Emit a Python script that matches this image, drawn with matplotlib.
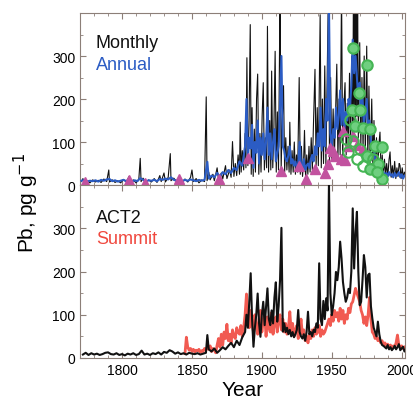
import matplotlib.pyplot as plt
from matplotlib.ticker import MultipleLocator

plt.rcParams["font.family"] = ["Liberation Sans", "DejaVu Sans"]

# ---- top panel: monthly (black) and annual (blue) ----
monthly_year = [1771, 1772, 1773, 1775, 1777, 1779, 1781, 1783, 1785, 1787, 1789, 1790.5, 1791, 1793, 1795,
                1797, 1799, 1801, 1803, 1805, 1806, 1808, 1810, 1812, 1813, 1813.6, 1815, 1817, 1819, 1821,
                1823, 1825, 1827, 1828, 1830, 1831, 1833, 1834.5, 1835, 1837, 1839, 1841, 1843, 1845, 1847,
                1849, 1850, 1851, 1853, 1855, 1857, 1859, 1860.2, 1860.8, 1862, 1863, 1865, 1866, 1868, 1869,
                1871, 1872, 1874, 1875, 1877, 1878, 1879, 1880, 1881, 1882, 1883, 1884, 1884.5, 1885.2, 1886,
                1887, 1888, 1888.6, 1889.3, 1890, 1890.8, 1891.7, 1892.4, 1893, 1893.8, 1894.6, 1895.4, 1896.2,
                1897, 1897.8, 1898.6, 1899.4, 1900.2, 1901, 1901.8, 1902.6, 1903.4, 1904, 1904.8, 1905.6,
                1906.4, 1907, 1907.8, 1908.6, 1909.5, 1910.3, 1911.1, 1911.9, 1913, 1913.8, 1914.6, 1915.5,
                1916.3, 1917.1, 1917.9, 1918.7, 1919.5, 1920, 1920.8, 1921.6, 1922.4, 1923.2, 1924, 1924.8,
                1925.6, 1926.7, 1927.5, 1928.3, 1929.1, 1929.9, 1930.5, 1931.3, 1932.1, 1932.9, 1933.7, 1934.5,
                1935.3, 1936.1, 1936.9, 1938, 1938.8, 1939.6, 1940.4, 1941.7, 1942.5, 1943.3, 1944.1, 1945,
                1945.8, 1946.6, 1947.6, 1948.4, 1949.2, 1950, 1951, 1951.8, 1952.6, 1953.6, 1954.4, 1955.2,
                1956, 1957, 1957.8, 1958.6, 1959.5, 1960.3, 1961.1, 1961.9, 1962.7, 1963.5, 1964.3, 1965,
                1965.5, 1966, 1966.5, 1967, 1967.5, 1968, 1968.5, 1969, 1970, 1970.8, 1971.6, 1972.4, 1973.2,
                1974, 1975, 1975.8, 1976.6, 1977.4, 1978.6, 1979.4, 1980.2, 1981, 1982, 1982.8, 1983.6, 1984.5,
                1985.3, 1986.1, 1986.9, 1987.7, 1988.5, 1989.3, 1990.1, 1991, 1991.7, 1992.5, 1993.3, 1994.1,
                1995, 1995.8, 1996.6, 1997.4, 1998.2, 1998.8, 1999.6, 2000.4, 2001.2, 2002, 2002.8]
monthly_pb = [8, 15, 6, 10, 5, 12, 7, 11, 6, 14, 8, 35, 7, 12, 6,
              10, 5, 13, 7, 20, 6, 12, 5, 14, 62, 8, 16, 5, 12, 7,
              15, 6, 22, 8, 28, 7, 18, 73, 10, 16, 8, 20, 6, 14, 7,
              18, 35, 8, 15, 5, 12, 8, 205, 10, 30, 12, 25, 10, 40, 12,
              28, 14, 45, 15, 35, 18, 101, 20, 50, 22, 70, 25, 146, 30, 80,
              35, 120, 40, 296, 45, 140, 373, 25, 180, 20, 130, 30, 200,
              258, 25, 120, 30, 160, 238, 35, 110, 40, 369, 30, 150,
              35, 265, 40, 130, 311, 30, 170, 35, 450, 40, 150, 231,
              30, 110, 35, 90, 30, 146, 25, 80, 30, 100, 25, 70,
              30, 250, 25, 90, 20, 60, 127, 15, 70, 25, 90, 30,
              110, 35, 140, 269, 40, 180, 45, 396, 40, 200, 50, 277,
              45, 230, 450, 50, 250, 60, 177, 55, 150, 281, 60, 200,
              70, 450, 60, 180, 238, 70, 190, 80, 260, 90, 300, 120,
              450, 150, 450, 130, 450, 160, 450, 110, 331, 90, 250, 80, 300,
              70, 323, 60, 230, 50, 200, 40, 150, 35, 110, 30, 90, 123,
              25, 70, 20, 60, 25, 50, 20, 60, 77, 18, 45, 20,
              55, 15, 40, 20, 50, 46, 15, 40, 18, 30, 20]

annual_year = list(range(1771, 1861, 2)) + [1861, 1862] + list(range(1864, 1889, 2)) + list(range(1889, 1911)) \
    + list(range(1912, 2003))
annual_pb = [10, 12, 8, 10, 9, 11, 8, 12, 10, 13, 14, 9, 11, 8, 10, 12, 9, 14, 8, 11, 9, 16, 12, 8, 11,
             10, 12, 9, 14, 12, 15, 13, 18, 12, 10, 14, 9, 12, 10, 13, 11, 9, 12, 10, 12,
             54, 15,
             22, 18, 28, 20, 30, 25, 35, 28, 40, 35, 55, 45, 90,
             200, 60, 110, 85, 140, 40, 100, 75, 150, 50, 110, 70, 120, 60, 100, 180, 70, 120, 60, 100, 130, 55,
             90, 180, 300, 90, 80, 60, 55, 70, 90, 50, 60, 45, 55, 40, 50, 100, 45, 40, 60, 35, 45, 50, 40,
             60, 70, 55, 90, 70, 120, 90, 180, 80, 130, 90, 200, 150, 420, 120, 90, 130, 110, 180, 130, 160,
             220, 140, 200, 130, 170, 150, 200, 180, 230, 338, 260, 300, 250, 200, 238, 160, 200, 140, 170,
             200, 120, 150, 100, 80, 90, 60, 50, 45, 40, 30, 25, 30, 22, 28, 20, 30, 22, 25, 18, 28, 20, 24,
             30, 18, 25, 15, 22]

tri_year = [1773.8, 1804.8, 1816.7, 1841, 1869, 1889.8, 1913.8, 1926.9, 1931.7, 1938, 1945.2, 1947.3,
            1948.8, 1951.2, 1952.4, 1956.4, 1957.9, 1961.9, 1965.5, 1967.9, 1972.2, 1959.5]
tri_pb = [8, 12, 4, 15, 15, 62, 33, 44, 15, 38, 29, 48, 87, 80, 68, 61, 125, 91, 114, 94, 83, 58]

circ_year = [1965.4, 1975, 1969.8, 1964.3, 1970.2, 1963.1, 1966.7, 1972.6, 1977.4, 1980.9, 1985.7, 1965.5,
             1970.2, 1975, 1979.8, 1983.3, 1972.6, 1977.4, 1985.7, 1982.1, 1960.5, 1961.7, 1967.9]
circ_pb = [318, 279, 214, 175, 175, 152, 137, 133, 130, 91, 88, 103, 83, 68, 61, 50, 45, 37, 14, 30, 106, 76, 60]
circ_open = [False, False, False, False, False, True, False, False, False, False, False, True,
             True, False, True, False, True, False, False, False, True, True, True]

# ---- bottom panel: ACT2 (black) and Summit (red) ----
act2_year = list(range(1772, 1861, 2)) + [1861, 1862] + list(range(1864, 1889, 2)) + list(range(1889, 2004))
act2_pb = [8, 12, 7, 11, 8, 10, 7, 9, 12, 13, 9, 8, 11, 7, 9, 6, 10, 8, 11, 7, 9, 17, 8, 10, 7, 11, 9, 13,
           8, 14, 12, 18, 15, 10, 13, 9, 11, 8, 12, 10, 9, 11, 8, 10, 12,
           53, 20,
           15, 22, 12, 18, 25, 20, 28, 35, 25, 40, 30, 48, 60,
           100, 70, 130, 196, 90, 26, 70, 100, 149, 80, 49, 100, 130, 76, 120, 161, 90, 76, 110, 80, 140, 175,
           84, 120, 180, 301, 61, 80, 60, 70, 55, 65, 50, 60, 48, 55, 65, 111, 60, 50, 45, 55, 40, 60, 107,
           55, 60, 50, 65, 60, 80, 70, 219, 90, 76, 132, 90, 138, 110, 405, 150, 99, 120, 150, 199, 180, 210,
           269, 230, 176, 150, 130, 140, 160, 150, 200, 346, 207, 290, 338, 200, 122, 130, 180, 238, 210, 140,
           192, 195, 120, 92, 70, 60, 50, 84, 55, 38, 30, 28, 25, 22, 30, 20, 25, 18, 22, 28, 20, 25, 32, 18,
           22, 26, 15, 20]

summit_year = list(range(1845, 2003))
summit_pb = [10, 48, 25, 18, 22, 15, 20, 14, 18, 16, 20, 13, 17, 15, 22, 18, 25, 20, 28, 15, 22, 18, 12,
             30, 45, 25, 55, 30, 60, 45, 78, 40, 55, 35, 65, 50, 45, 70, 60, 55, 75, 50, 70, 100, 148, 90,
             70, 110, 80, 60, 100, 75, 55, 90, 110, 60, 85, 100, 50, 95, 70, 60, 105, 55, 80, 95, 60, 85,
             100, 65, 90, 60, 80, 55, 70, 107, 60, 80, 50, 65, 75, 45, 60, 90, 55, 65, 40, 50, 35, 55, 45,
             65, 50, 70, 55, 60, 75, 50, 65, 55, 60, 70, 80, 90, 75, 100, 85, 110, 95, 105, 85, 115, 90,
             110, 80, 100, 90, 115, 105, 125, 130, 145, 161, 150, 140, 130, 110, 100, 80, 95, 75, 100, 140,
             90, 60, 55, 45, 50, 40, 45, 35, 40, 30, 35, 28, 32, 25, 30, 22, 28, 25, 35, 53, 30, 25, 28, 22,
             25]

spine_col = "#8c7f78"
fig = plt.figure(figsize=(4.13, 4.06), dpi=100)
ax1 = fig.add_axes([0.194, 0.5418, 0.787, 0.4237])
ax2 = fig.add_axes([0.194, 0.1158, 0.787, 0.426])

ax1.plot(monthly_year, monthly_pb, color="#111111", lw=0.8, zorder=2)
ax1.plot(annual_year, annual_pb, color="#2b5cc4", lw=1.5, zorder=3)
ax1.plot(tri_year, tri_pb, ls="none", marker="^", ms=7, color="#c2529f", zorder=4)
for x, y, op in zip(circ_year, circ_pb, circ_open):
    ax1.plot(x, y, ls="none", marker="o", ms=7.5, mec="#45b554", mew=1.5,
             mfc="none" if op else "#6fcf80", zorder=5)
ax1.text(0.048, 0.83, "Monthly", transform=ax1.transAxes, fontsize=13, color="#111111", va="center")
ax1.text(0.048, 0.7, "Annual", transform=ax1.transAxes, fontsize=13, color="#2b5cc4", va="center")

ax2.plot(summit_year, summit_pb, color="#f0483e", lw=2.0, alpha=0.9, zorder=2)
ax2.plot(act2_year, act2_pb, color="#111111", lw=1.5, zorder=3)
ax2.text(0.048, 0.81, "ACT2", transform=ax2.transAxes, fontsize=13, color="#111111", va="center")
ax2.text(0.048, 0.69, "Summit", transform=ax2.transAxes, fontsize=13, color="#f0483e", va="center")

for ax in (ax1, ax2):
    ax.set_xlim(1770, 2002.5)
    ax.set_ylim(0, 400)
    ax.set_yticks([0, 100, 200, 300])
    ax.yaxis.set_minor_locator(MultipleLocator(50))
    ax.xaxis.set_major_locator(MultipleLocator(50))
    ax.xaxis.set_minor_locator(MultipleLocator(10))
    ax.tick_params(which="both", direction="in", top=True, right=True, color=spine_col, labelsize=10)
    ax.tick_params(which="major", length=4)
    ax.tick_params(which="minor", length=2)
    for s in ax.spines.values():
        s.set_color(spine_col)

ax1.tick_params(labelbottom=False)
ax2.set_xlabel("Year", fontsize=15, labelpad=2)
fig.text(0.063, 0.5, "Pb, pg g$^{-1}$", rotation=90, fontsize=15, ha="center", va="center")

plt.savefig("out.png", dpi=100)
